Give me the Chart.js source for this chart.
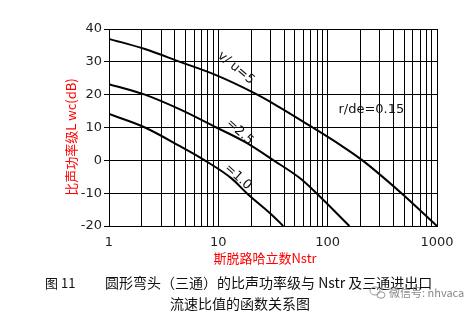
<!DOCTYPE html>
<html><head><meta charset="utf-8">
<script src="https://cdn.jsdelivr.net/npm/chart.js@4.4.0/dist/chart.umd.min.js"></script>
<style>html,body{margin:0;padding:0;background:#fff;}canvas{display:block;}</style>
</head><body>
<canvas id="c" width="468" height="315"></canvas>
<script>
// ---- data ----
const xTickValues = [1,2,3,4,5,6,7,8,9,10,20,30,40,50,60,70,80,90,100,200,300,400,500,600,700,800,900,1000];
const xLabelValues = [1,10,100,1000];
const yTicks = [-20,-10,0,10,20,30,40];

const nstr5  = [1, 2.13, 4.46, 9.3, 21.6, 31.8, 73, 129, 208, 473, 1000];
const lw5    = [37.0, 33.9, 30, 26.1, 20.4, 17.3, 10, 4.8, 0, -10, -20];
const nstr25 = [1, 2.13, 4.46, 9.6, 17.5, 32, 55.6, 79, 158];
const lw25   = [23.2, 20, 15.5, 10, 5.6, 0, -5.4, -10, -20];
const nstr10 = [1, 2.13, 4.46, 7.5, 13.2, 18.2, 31.8, 39.2];
const lw10   = [14.1, 10, 4.3, 0, -5.5, -10, -17, -20];

const seriesNames = ['v/u=5', '=2.5', '=1.0'];
const yTitle = '比声功率级L wc(dB)';
const xTitle = '斯脱路哈立数Nstr';
const captionNo = '图 11';
const caption1 = '圆形弯头（三通）的比声功率级与 Nstr 及三通进出口';
const caption2 = '流速比值的函数关系图';
const noteText = 'r/de=0.15';
const watermark = '微信号: nhvaca';

// annotation anchors (data coordinates) and angles
const annotations = [
  {text: 'v/ u=5', x: 14.5, y: 28.1, angle: 40},
  {text: '=2.5', x: 15.7, y: 8.6, angle: 42},
  {text: '=1.0', x: 15.1, y: -5.1, angle: 42},
  {text: noteText, x: 251, y: 15.3, angle: 0}
];

const pts = (xs, ys) => xs.map((x, i) => ({x, y: ys[i]}));
const lineStyle = {borderColor: '#000', borderWidth: 2, pointRadius: 0, fill: false, tension: 0.4, cubicInterpolationMode: 'monotone'};

const drawExtras = {
  id: 'extras',
  beforeDraw(chart) {
    const c = chart.ctx;
    c.save(); c.fillStyle = '#fff'; c.fillRect(0, 0, chart.width, chart.height); c.restore();
  },
  afterDraw(chart) {
    const c = chart.ctx, xs = chart.scales.x, ys = chart.scales.y;
    c.save();
    // annotations
    c.fillStyle = '#111';
    c.font = '13px "DejaVu Sans"';
    c.textAlign = 'center'; c.textBaseline = 'middle';
    annotations.forEach(n => {
      c.save();
      c.translate(xs.getPixelForValue(n.x), ys.getPixelForValue(n.y));
      c.rotate(n.angle * Math.PI / 180);
      c.fillText(n.text, 0, 0);
      c.restore();
    });
    // axis titles
    c.fillStyle = '#ff0000';
    c.font = '13px "Noto Sans CJK SC"';
    c.save();
    c.translate(71, 137);
    c.rotate(-Math.PI / 2);
    c.fillText(yTitle, 0, 0);
    c.restore();
    c.fillText(xTitle, 265, 258);
    // caption
    c.fillStyle = '#111';
    c.font = '13px "Noto Sans CJK SC"';
    c.textAlign = 'left';
    c.fillText(captionNo, 45, 283);
    c.font = '14px "Noto Sans CJK SC"';
    c.fillText(caption1, 105, 283);
    c.textAlign = 'center';
    c.fillText(caption2, 240, 304);
    // watermark
    c.strokeStyle = '#999'; c.lineWidth = 1;
    c.beginPath(); c.ellipse(375, 291, 5, 4, 0, 0, Math.PI * 2); c.stroke();
    c.beginPath(); c.ellipse(381, 295, 4, 3.2, 0, 0, Math.PI * 2); c.stroke();
    c.fillStyle = '#888';
    c.font = '11px "Noto Sans CJK SC"';
    c.textAlign = 'left';
    c.fillText(watermark, 389, 293);
    c.restore();
  }
};

new Chart(document.getElementById('c'), {
  type: 'line',
  data: {
    datasets: [
      {label: seriesNames[0], data: pts(nstr5, lw5), ...lineStyle},
      {label: seriesNames[1], data: pts(nstr25, lw25), ...lineStyle},
      {label: seriesNames[2], data: pts(nstr10, lw10), ...lineStyle}
    ]
  },
  options: {
    responsive: false,
    animation: false,
    devicePixelRatio: 1,
    layout: {padding: {left: 0, top: 29, right: 31, bottom: 59}},
    plugins: {legend: {display: false}, tooltip: {enabled: false}},
    scales: {
      x: {
        type: 'logarithmic', min: 1, max: 1000,
        afterBuildTicks: s => { s.ticks = xTickValues.map(v => ({value: v})); },
        afterFit: s => { s.height = 30; },
        ticks: {
          autoSkip: false, maxRotation: 0, padding: 9, color: '#222',
          font: {family: 'DejaVu Sans', size: 13},
          callback: v => xLabelValues.includes(v) ? String(v) : ''
        },
        grid: {color: '#000', lineWidth: 1, drawTicks: false},
        border: {color: '#000', width: 1}
      },
      y: {
        min: -20, max: 40,
        afterBuildTicks: s => { s.ticks = yTicks.map(v => ({value: v})); },
        afterFit: s => { s.width = 109; },
        ticks: {padding: 2, color: '#222', font: {family: 'DejaVu Sans', size: 13}},
        grid: {color: '#000', lineWidth: 1, tickLength: 5},
        border: {color: '#000', width: 1}
      }
    }
  },
  plugins: [drawExtras]
});
</script>
</body></html>
